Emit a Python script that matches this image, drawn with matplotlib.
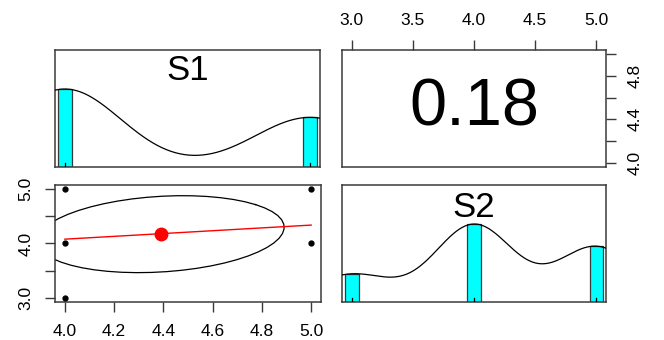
import numpy as np
import matplotlib.pyplot as plt

plt.rcParams['font.family'] = ['Liberation Sans', 'DejaVu Sans']

# item responses (value levels and how many answered each)
s1_levels = np.array([4, 5])
s1_counts = np.array([11, 7])
s2_levels = np.array([3, 4, 5])
s2_counts = np.array([5, 14, 10])

# distinct (S1, S2) pairs seen in the scatter
pair_s1 = [4, 4, 4, 5, 5]
pair_s2 = [3, 4, 5, 4, 5]

# smoother end points and correlation
fit_s1 = [4.0, 5.0]
fit_s2 = [4.08, 4.34]
r_value = 0.18
r_label = "0.18"

# kernel bandwidths of the density lines
s1_bw = 0.23
s2_bw = 0.32

frame_col = '#3a3a3a'


def stats(levels, counts):
    n = counts.sum()
    m = (levels * counts).sum() / n
    sd = np.sqrt((counts * (levels - m) ** 2).sum() / (n - 1))
    return m, sd


def pad_range(levels):
    lo, hi = levels.min(), levels.max()
    d = (hi - lo) * 0.04
    return lo - d, hi + d


def style(ax):
    for s in ax.spines.values():
        s.set_color(frame_col)
        s.set_linewidth(1.1)
    ax.tick_params(length=7.5, width=1.0, color=frame_col, labelsize=12.5, pad=8)
    ax.set_xticks([])
    ax.set_yticks([])


def hist_panel(ax, levels, counts, bw, name, label_y):
    style(ax)
    ax.set_xlim(*pad_range(levels))
    ax.set_ylim(0, 1.5)
    width = 0.055 * (levels.max() - levels.min())
    ax.bar(levels, counts / counts.max(), width=width, color='cyan',
           edgecolor=frame_col, linewidth=0.9, zorder=2)
    # density line
    grid = np.linspace(levels.min() - 3 * bw, levels.max() + 3 * bw, 512)
    dens = (counts[:, None] * np.exp(-0.5 * ((grid[None, :] - levels[:, None]) / bw) ** 2)).sum(axis=0)
    ax.plot(grid, dens / dens.max(), color='black', lw=0.9, zorder=3)
    # rug
    for v in levels:
        ax.plot([v, v], [0, 0.045], color='black', lw=0.9, zorder=4)
    ax.text(np.mean(ax.get_xlim()), label_y, name, ha='center', va='center', fontsize=25)


fig = plt.figure(figsize=(6.64, 3.40), dpi=100)
ax_tl = fig.add_axes([55 / 664, 1 - 167 / 340, 265 / 664, 117 / 340])
ax_tr = fig.add_axes([342 / 664, 1 - 167 / 340, 264 / 664, 117 / 340])
ax_bl = fig.add_axes([55 / 664, 1 - 302 / 340, 266 / 664, 117 / 340])
ax_br = fig.add_axes([342 / 664, 1 - 302 / 340, 264 / 664, 117 / 340])

hist_panel(ax_tl, s1_levels, s1_counts, s1_bw, "S1", 1.24)
hist_panel(ax_br, s2_levels, s2_counts, s2_bw, "S2", 1.21)

# correlation panel
style(ax_tr)
ax_tr.set_xlim(*pad_range(s2_levels))
ax_tr.set_ylim(*pad_range(s1_levels))
ax_tr.text(0.5, 0.5, r_label, transform=ax_tr.transAxes, ha='center', va='center', fontsize=48)
ax_tr.xaxis.tick_top()
ax_tr.set_xticks([3.0, 3.5, 4.0, 4.5, 5.0])
ax_tr.set_xticklabels(["3.0", "3.5", "4.0", "4.5", "5.0"])
ax_tr.yaxis.tick_right()
ax_tr.set_yticks([4.0, 4.2, 4.4, 4.6, 4.8, 5.0])
ax_tr.set_yticklabels(["4.0", "", "4.4", "", "4.8", ""])
ax_tr.tick_params(axis='y', labelrotation=90)
for t in ax_tr.get_yticklabels():
    t.set_va('center')

# scatter panel
style(ax_bl)
ax_bl.set_xlim(*pad_range(s1_levels))
ax_bl.set_ylim(*pad_range(s2_levels))
ax_bl.plot(pair_s1, pair_s2, 'o', color='black', markersize=3.5, zorder=3)
m1, sd1 = stats(s1_levels, s1_counts)
m2, sd2 = stats(s2_levels, s2_counts)
ang = np.arange(52) * 2 * np.pi / 51
t = 1 / np.sqrt(2)
a, b = np.sqrt(1 + r_value), np.sqrt(1 - r_value)
ex = m1 + sd1 * (np.cos(ang) * a * t - np.sin(ang) * b * t)
ey = m2 + sd2 * (np.cos(ang) * a * t + np.sin(ang) * b * t)
ax_bl.plot(ex, ey, color='black', lw=0.9)
ax_bl.plot(fit_s1, fit_s2, color='red', lw=1.0, zorder=4)
ax_bl.plot([m1], [m2], 'o', color='red', markersize=9, zorder=5)
ax_bl.set_xticks([4.0, 4.2, 4.4, 4.6, 4.8, 5.0])
ax_bl.set_xticklabels(["4.0", "4.2", "4.4", "4.6", "4.8", "5.0"])
ax_bl.set_yticks([3.0, 3.5, 4.0, 4.5, 5.0])
ax_bl.set_yticklabels(["3.0", "", "4.0", "", "5.0"])
ax_bl.tick_params(axis='y', labelrotation=90)
for t_ in ax_bl.get_yticklabels():
    t_.set_va('center')

fig.savefig("out.png", dpi=100)
